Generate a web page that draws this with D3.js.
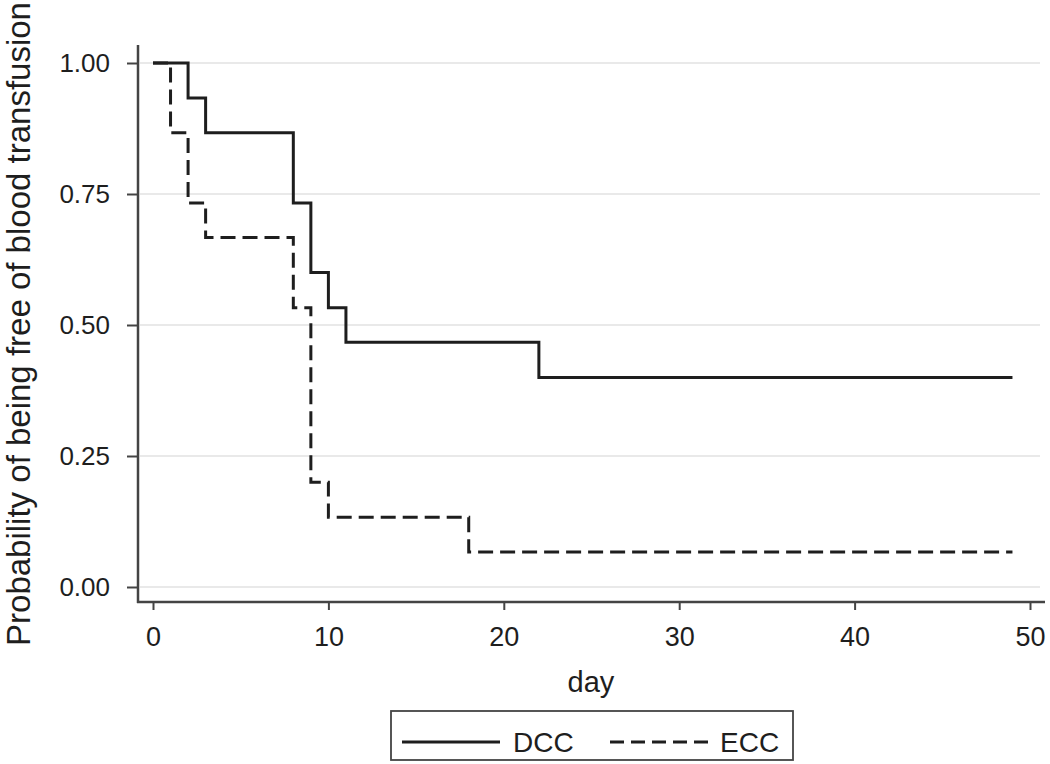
<!DOCTYPE html>
<html>
<head>
<meta charset="utf-8">
<script src="https://cdn.jsdelivr.net/npm/d3@7"></script>
<style>
  html, body { margin: 0; padding: 0; background: #fff; }
  svg { display: block; font-family: "Liberation Sans", Arial, sans-serif; }
</style>
</head>
<body>
<svg id="chart" width="1050" height="764"></svg>
<script>
// ---- data ----
const seriesNames = ["DCC", "ECC"];
const dccDays = [0, 2, 3, 8, 9, 10, 11, 22, 49];
const dccSurv = [1.000, 0.933, 0.867, 0.733, 0.600, 0.533, 0.467, 0.400, 0.400];
const eccDays = [0, 1, 2, 3, 8, 9, 10, 18, 49];
const eccSurv = [1.000, 0.867, 0.733, 0.667, 0.533, 0.200, 0.133, 0.067, 0.067];
const xTicks = [0, 10, 20, 30, 40, 50];
const yTicks = [0, 0.25, 0.5, 0.75, 1.0];
const xTitle = "day";
const yTitle = "Probability of being free of blood transfusion";

// ---- layout ----
const svg = d3.select("#chart");
const x = d3.scaleLinear().domain([0, 50]).range([153, 1030]);
const y = d3.scaleLinear().domain([0, 1]).range([587, 63]);
const axisX0 = 138, axisY0 = 602, axisX1 = 1045, axisYTop = 45;
const ink = "#1e1e1e";
const axisInk = "#444";

// grid lines
svg.append("g").selectAll("line").data(yTicks).join("line")
  .attr("x1", axisX0 + 2).attr("x2", 1040)
  .attr("y1", d => y(d)).attr("y2", d => y(d))
  .attr("stroke", "#e9e9e9").attr("stroke-width", 2);

// y axis
const yAxis = d3.axisLeft(y).tickValues(yTicks).tickFormat(d3.format(".2f"))
  .tickSize(11).tickPadding(17);
const gy = svg.append("g").attr("transform", `translate(${axisX0},0)`).call(yAxis);
gy.select(".domain").remove();
gy.selectAll(".tick line").attr("stroke", axisInk).attr("stroke-width", 2);
gy.selectAll(".tick text").attr("fill", ink).style("font-size", "26px")
  .style("font-family", "'Liberation Sans', Arial, sans-serif");

// x axis
const xAxis = d3.axisBottom(x).tickValues(xTicks).tickFormat(d3.format("d"))
  .tickSize(8).tickPadding(17);
const gx = svg.append("g").attr("transform", `translate(0,${axisY0})`).call(xAxis);
gx.select(".domain").remove();
gx.selectAll(".tick line").attr("stroke", axisInk).attr("stroke-width", 2);
gx.selectAll(".tick text").attr("fill", ink).style("font-size", "27px")
  .style("font-family", "'Liberation Sans', Arial, sans-serif");

// axis lines
svg.append("line").attr("x1", axisX0).attr("x2", axisX0)
  .attr("y1", axisYTop).attr("y2", axisY0 + 1)
  .attr("stroke", axisInk).attr("stroke-width", 2.5);
svg.append("line").attr("x1", axisX0 - 1).attr("x2", axisX1)
  .attr("y1", axisY0).attr("y2", axisY0)
  .attr("stroke", axisInk).attr("stroke-width", 2.5);

// step lines
const line = d3.line().x(d => x(d[0])).y(d => y(d[1])).curve(d3.curveStepAfter);
const dcc = d3.zip(dccDays, dccSurv);
const ecc = d3.zip(eccDays, eccSurv);
svg.append("path").attr("d", line(dcc)).attr("fill", "none")
  .attr("stroke", ink).attr("stroke-width", 3);
svg.append("path").attr("d", line(ecc)).attr("fill", "none")
  .attr("stroke", ink).attr("stroke-width", 3).attr("stroke-dasharray", "15,7");

// titles
svg.append("text").attr("x", 591).attr("y", 692).attr("text-anchor", "middle")
  .attr("fill", ink).style("font-size", "29px").text(xTitle);
svg.append("text").attr("transform", "translate(30,324) rotate(-90)")
  .attr("text-anchor", "middle").attr("fill", ink).style("font-size", "33px").text(yTitle);

// legend
const lg = svg.append("g");
lg.append("rect").attr("x", 391).attr("y", 711).attr("width", 402).attr("height", 49)
  .attr("fill", "#fff").attr("stroke", axisInk).attr("stroke-width", 1.8);
lg.append("line").attr("x1", 402).attr("x2", 500).attr("y1", 742).attr("y2", 742)
  .attr("stroke", ink).attr("stroke-width", 3);
lg.append("text").attr("x", 513).attr("y", 752).attr("fill", ink)
  .style("font-size", "28px").text(seriesNames[0]);
lg.append("line").attr("x1", 610).attr("x2", 710).attr("y1", 742).attr("y2", 742)
  .attr("stroke", ink).attr("stroke-width", 3).attr("stroke-dasharray", "14,7");
lg.append("text").attr("x", 720).attr("y", 752).attr("fill", ink)
  .style("font-size", "28px").text(seriesNames[1]);
</script>
</body>
</html>
